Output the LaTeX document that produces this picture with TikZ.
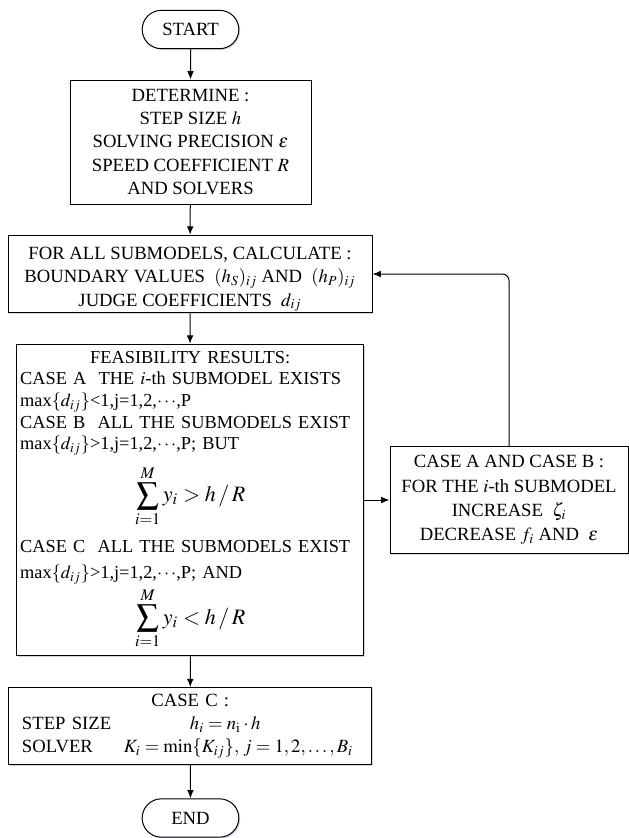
\documentclass[tikz,border=0pt]{standalone}
\usepackage{graphicx}
\usepackage{mathptmx}
\usepackage{fontspec}
\setmainfont{Liberation Serif}
\usetikzlibrary{shapes.misc,arrows.meta,shadows}

\begin{document}
\begin{tikzpicture}
		[x=0.6pt, y=-0.6pt, every node/.style={font=\fontsize{11.2}{14}\selectfont},
		edgeline/.style={semithick,black},
		flow/.style={edgeline,-{Latex[length=5pt,width=4pt]}},
		shade/.style={fill=white,drop shadow={shadow xshift=0.8pt,shadow yshift=-0.8pt,fill=blue!30!gray,opacity=0.25}},
		terminal/.style={edgeline,draw,shade,rounded rectangle,minimum width=58pt,minimum height=23pt,inner sep=0pt},
		block/.style={edgeline,draw,shade,align=center,inner sep=0pt}]
		\useasboundingbox (0,0) rectangle (629,838);

		% Start and end
		\node [terminal] (start) at (190.5,29.5) {START};
		\node [terminal] (end) at (190.5,818) {END};

		% Set up
		\node [block,minimum width=144.6pt,minimum height=74.4pt] (determine) at (190.5,142)
			{DETERMINE :\\ STEP SIZE $h$\\ SOLVING PRECISION $\varepsilon$\\ SPEED COEFFICIENT $R$\\ AND SOLVERS};

		% Boundary values
		\node [block,minimum width=218.4pt,minimum height=46.6pt] (calculate) at (190,274)
			{\rule{0pt}{14pt}FOR ALL SUBMODELS, CALCULATE :\\ BOUNDARY VALUES \ $(h_{S})_{ij}$ AND \ $(h_{P})_{ij}$\\ JUDGE COEFFICIENTS \ $d_{ij}$};

		% Feasibility check
		\node [block,align=left,font=\fontsize{11}{13}\selectfont,text width=204pt,inner sep=2pt,minimum height=187pt] (feasible) at (190.2,500)
			{\hyphenpenalty=10000
			\hfill FEASIBILITY RESULTS:\hfill\null\\
			CASE A \ THE $i$-th SUBMODEL EXISTS\\
			max$\{d_{ij}\}$<1,j=1,2,$\cdots$,P\\
			CASE B \ ALL THE SUBMODELS EXIST\\
			max$\{d_{ij}\}$>1,j=1,2,$\cdots$,P; BUT\\[5pt]
			\hfill\scalebox{1.2}{$\displaystyle\sum_{i=1}^{M} y_i > h\,/\,R$}\hfill\null\\[7.5pt]
			CASE C \ ALL THE SUBMODELS EXIST\\[2.5pt]
			max$\{d_{ij}\}$>1,j=1,2,$\cdots$,P; AND\\[1pt]
			\hfill\scalebox{1.2}{$\displaystyle\sum_{i=1}^{M} y_i < h\,/\,R$}\hfill\null};

		% Adjust submodels
		\node [block,font=\fontsize{11.2}{14.5}\selectfont,minimum width=142.8pt,minimum height=64.5pt] (adjust) at (509,500)
			{CASE A AND CASE B :\\ FOR THE $i$-th SUBMODEL\\ INCREASE \ $\zeta_i$\\ DECREASE $f_i$ AND \ $\varepsilon$};

		% Final step size and solver
		\node [block,align=left,text width=202pt,inner xsep=8pt,minimum height=46pt] (casec) at (190.3,726)
			{\hfill CASE C :\hfill\null\\
			\makebox[100.8pt][l]{STEP SIZE}$h_i = n_{\mathrm{i}}\cdot h$\\
			\makebox[61.2pt][l]{SOLVER}$K_i = \min\{K_{ij}\},\, j=1,2,\ldots,B_i$};

		% Flow
		\draw[flow] (start) -- (determine);
		\draw[flow] (determine) -- (calculate);
		\draw[flow] (calculate) -- (feasible);
		\draw[flow] (feasible) -- (casec);
		\draw[flow] (casec) -- (end);
		\draw[flow] (feasible.east) -- (adjust.west);
		\draw[flow,rounded corners=4pt] (adjust.north) |- (calculate.east);
\end{tikzpicture}
\end{document}
